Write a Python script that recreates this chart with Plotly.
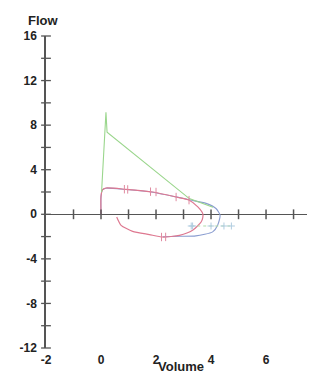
import plotly.graph_objects as go

# ---- data ----
green_x = [0.02, 0.18, 0.22, 3.21, 4.07]
green_y = [1.97, 9.16, 7.36, 1.41, 0.63]

pink_x = [0.0, 0.0, 0.05, 0.18, 0.91, 1.88, 2.73, 3.21, 3.52, 3.70, 3.70, 3.64, 3.33, 2.85, 2.24, 1.76, 1.15, 0.73, 0.57]
pink_y = [0.0, 1.60, 2.20, 2.36, 2.24, 2.00, 1.55, 1.26, 0.66, 0.06, -0.30, -0.69, -1.44, -1.89, -2.04, -1.82, -1.53, -0.99, -0.24]

blue_x = [0.0, 0.0, 0.05, 0.18, 0.91, 1.88, 2.73, 3.21, 3.82, 4.18, 4.33, 4.24, 4.06, 3.45, 2.85, 2.24]
blue_y = [0.0, 1.60, 2.18, 2.34, 2.22, 1.98, 1.56, 1.30, 0.98, 0.52, -0.09, -0.98, -1.58, -1.94, -1.97, -2.02]

pinktick_x = [0.85, 0.97, 1.80, 2.00, 2.73, 3.20, 2.20, 2.35]
pinktick_y = [2.25, 2.23, 2.03, 2.00, 1.55, 1.27, -2.04, -2.03]

dots_x = [3.28, 3.33, 4.00, 4.47, 4.74]
dots_y = [-1.05, -1.05, -1.05, -1.05, -1.05]

xtick_minor = [-1, 0, 1, 2, 3, 4, 5, 6, 7]
ytick_minor = [-12, -10, -8, -6, -4, -2, 0, 2, 4, 6, 8, 10, 12, 14, 16]
xtick_labels = [-2, 0, 2, 4, 6]
ytick_labels = [-12, -8, -4, 0, 4, 8, 12, 16]

AX = "#555555"
TXT = "#222222"
FONT = "Liberation Sans"

fig = go.Figure()

fig.add_trace(go.Scatter(x=blue_x, y=blue_y, mode="lines",
                         line=dict(color="#8a9dd0", width=1.1, shape="spline", smoothing=0.6),
                         hoverinfo="skip"))
fig.add_trace(go.Scatter(x=pink_x, y=pink_y, mode="lines",
                         line=dict(color="#de7890", width=1.2, shape="spline", smoothing=0.6),
                         hoverinfo="skip"))
fig.add_trace(go.Scatter(x=green_x, y=green_y, mode="lines",
                         line=dict(color="#9ad68c", width=1.1),
                         hoverinfo="skip"))
fig.add_trace(go.Scatter(x=pinktick_x, y=pinktick_y, mode="markers",
                         marker=dict(symbol="line-ns", size=6,
                                     line=dict(color="#e08aa0", width=1)),
                         hoverinfo="skip"))
fig.add_trace(go.Scatter(x=dots_x, y=dots_y, mode="lines+markers",
                         line=dict(color="#b0dca8", width=1, dash="dot"),
                         marker=dict(symbol="cross-thin", size=5,
                                     line=dict(color="#b0cce0", width=1)),
                         hoverinfo="skip"))
# crossing tick marks on the axes
fig.add_trace(go.Scatter(x=xtick_minor, y=[0] * len(xtick_minor), mode="markers",
                         marker=dict(symbol="line-ns", size=7,
                                     line=dict(color=AX, width=1.5)),
                         cliponaxis=False, hoverinfo="skip"))
fig.add_trace(go.Scatter(x=[-2] * len(ytick_minor), y=ytick_minor, mode="markers",
                         marker=dict(symbol="line-ew", size=7,
                                     line=dict(color=AX, width=1.3)),
                         cliponaxis=False, hoverinfo="skip"))

fig.update_layout(
    width=315, height=372,
    margin=dict(l=38, r=8, t=28, b=32, autoexpand=False),
    paper_bgcolor="white", plot_bgcolor="white",
    showlegend=False,
    font=dict(family=FONT, color=TXT),
    xaxis=dict(range=[-2, 7.78], showgrid=False, zeroline=False, showline=False,
               automargin=False, ticklabelstandoff=3,
               tickvals=xtick_labels, ticktext=[str(v) for v in xtick_labels],
               ticks="", tickfont=dict(size=12, family=FONT, color=TXT, weight="bold")),
    yaxis=dict(range=[-12, 16], showgrid=False, zeroline=True, zerolinecolor=AX,
               zerolinewidth=1.3, showline=True, linecolor=AX, linewidth=1.5,
               automargin=False,
               tickvals=ytick_labels, ticktext=[str(v) for v in ytick_labels],
               ticks="", ticklabelstandoff=5,
               tickfont=dict(size=12, family=FONT, color=TXT, weight="bold")),
    annotations=[
        dict(text="Flow", xref="paper", yref="paper", x=-0.01, y=1.0, yshift=6,
             xanchor="center", yanchor="bottom", showarrow=False,
             font=dict(size=13, family=FONT, color=TXT, weight="bold")),
        dict(text="Volume", xref="paper", yref="paper", x=0.502, y=0, yshift=-9,
             xanchor="center", yanchor="top", showarrow=False,
             font=dict(size=13, family=FONT, color=TXT, weight="bold")),
        dict(text="8", xref="paper", yref="paper", x=(8 + 2) / 9.78, y=0, yshift=-11,
             xanchor="center", yanchor="middle", showarrow=False,
             font=dict(size=12, family=FONT, color=TXT, weight="bold")),
    ],
)

fig.write_html("out.html")
